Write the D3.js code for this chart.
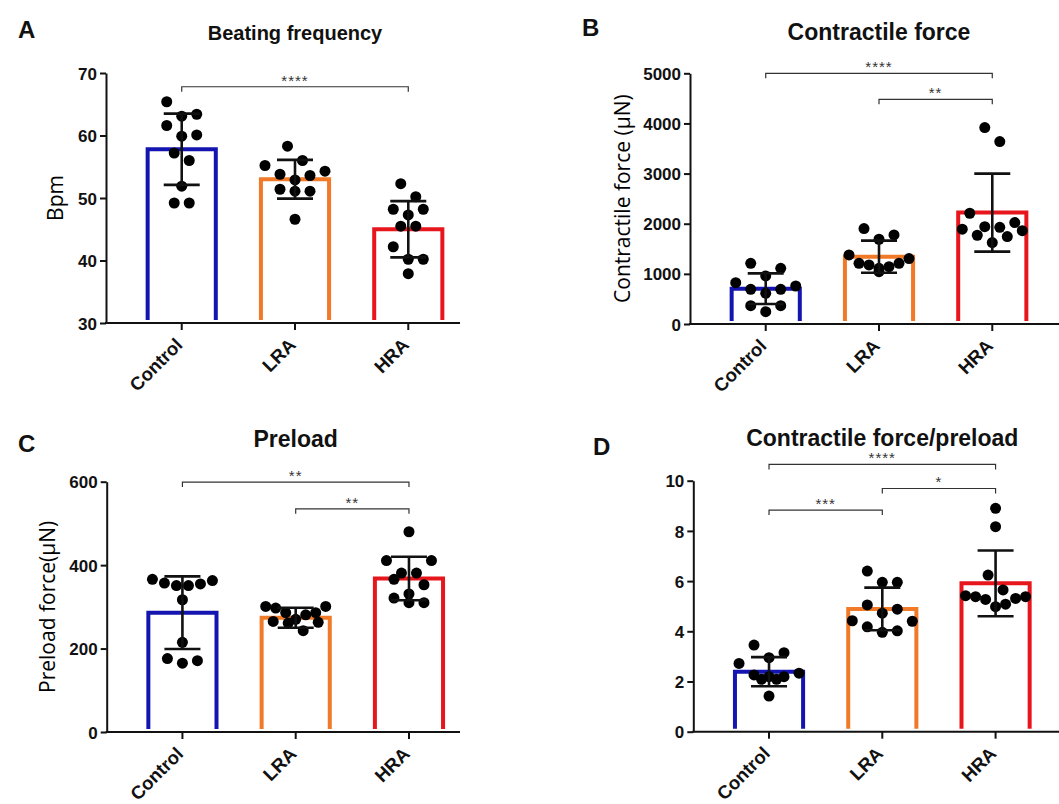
<!DOCTYPE html>
<html>
<head>
<meta charset="utf-8">
<script src="https://cdn.jsdelivr.net/npm/d3@7"></script>
<style>
  body { margin: 0; background: #fff; }
  svg { display: block; }
  .tick text { font-family: "Liberation Sans", Arial, sans-serif; font-weight: bold; fill: #111; }
</style>
</head>
<body>
<div id="chart"></div>
<script>
/* jshint esversion: 6 */

///////////////////////////////////////////////////////////////////////////////
//// Data /////////////////////////////////////////////////////////////////////
///////////////////////////////////////////////////////////////////////////////
const groups = ["Control", "LRA", "HRA"];
const groupColors = ["#1414b0", "#f07a28", "#e6161c"];

// A - beating frequency (Bpm)
const bpmMean = [57.8, 53.0, 45.0];
const bpmSd = [5.7, 3.1, 4.5];
const bpmControl = [65.4, 63.4, 63.1, 61.6, 60.1, 59.9, 57.2, 56.0, 51.9, 49.2, 49.2];
const bpmLRA = [58.3, 56.0, 55.2, 54.3, 53.8, 53.6, 52.9, 51.4, 51.1, 51.1, 46.6];
const bpmHRA = [52.3, 50.2, 48.2, 48.2, 47.3, 45.5, 45.5, 42.2, 40.2, 40.2, 37.9];
const bpmTicks = [30, 40, 50, 60, 70];
const bpmSig = [{ from: 0, to: 2, at: 67.8, label: "****" }];

// B - contractile force (uN)
const forceMean = [705, 1343, 2222];
const forceSd = [305, 320, 778];
const forceControl = [1211, 1111, 958, 824, 758, 692, 692, 612, 366, 366, 246];
const forceLRA = [1903, 1776, 1690, 1377, 1304, 1211, 1211, 1178, 1144, 1111, 1044];
const forceHRA = [3918, 3639, 2209, 2022, 1942, 1929, 1890, 1862, 1770, 1743, 1623];
const forceTicks = [0, 1000, 2000, 3000, 4000, 5000];
const forceSig = [
	{ from: 0, to: 2, at: 5000, label: "****" },
	{ from: 1, to: 2, at: 4480, label: "**" }
];

// C - preload (uN)
const preloadMean = [286, 274, 368];
const preloadSd = [87, 24, 52];
const preloadControl = [366, 363, 357, 355, 351, 351, 317, 215, 176, 171, 165];
const preloadLRA = [301, 301, 297, 286, 286, 281, 270, 265, 263, 261, 243];
const preloadHRA = [480, 411, 411, 381, 381, 366, 353, 331, 321, 310, 310];
const preloadTicks = [0, 200, 400, 600];
const preloadSig = [
	{ from: 0, to: 2, at: 599, label: "**" },
	{ from: 1, to: 2, at: 535, label: "**" }
];

// D - contractile force / preload
const ratioMean = [2.39, 4.89, 5.91];
const ratioSd = [0.58, 0.85, 1.31];
const ratioControl = [3.45, 3.15, 2.95, 2.72, 2.33, 2.26, 2.19, 2.19, 2.09, 2.09, 1.42];
const ratioLRA = [6.40, 5.95, 5.95, 5.05, 4.88, 4.72, 4.42, 4.40, 4.18, 4.02, 3.96];
const ratioHRA = [8.90, 8.17, 6.24, 5.65, 5.42, 5.38, 5.38, 5.31, 5.27, 5.08, 4.98];
const ratioTicks = [0, 2, 4, 6, 8, 10];
const ratioSig = [
	{ from: 0, to: 2, at: 10.65, label: "****" },
	{ from: 1, to: 2, at: 9.69, label: "*" },
	{ from: 0, to: 1, at: 8.83, label: "***" }
];

///////////////////////////////////////////////////////////////////////////////
//// Layout ///////////////////////////////////////////////////////////////////
///////////////////////////////////////////////////////////////////////////////
const width = 1059,
			height = 804;

const plotWidth = 378,
			dotRadius = 5.5;

const panels = [
	{ letter: "A", title: "Beating frequency", titleSize: 20, yLabel: "Bpm",
		mean: bpmMean, sd: bpmSd, points: [bpmControl, bpmLRA, bpmHRA],
		ticks: bpmTicks, sig: bpmSig,
		x0: 106, top: 73, bottom: 323, right: 460, labelX: 63, letterPos: [18, 38], titleY: 40 },
	{ letter: "B", title: "Contractile force", titleSize: 23, yLabel: "Contractile force (\u03bcN)",
		mean: forceMean, sd: forceSd, points: [forceControl, forceLRA, forceHRA],
		ticks: forceTicks, sig: forceSig,
		x0: 690, top: 73.3, bottom: 324, right: 1059, labelX: 630, letterPos: [582, 36], titleY: 40 },
	{ letter: "C", title: "Preload", titleSize: 23, yLabel: "Preload force(\u03bcN)",
		mean: preloadMean, sd: preloadSd, points: [preloadControl, preloadLRA, preloadHRA],
		ticks: preloadTicks, sig: preloadSig,
		x0: 106.7, top: 481.7, bottom: 732, right: 460, labelX: 55, letterPos: [18, 452], titleY: 447 },
	{ letter: "D", title: "Contractile force/preload", titleSize: 23, yLabel: "",
		mean: ratioMean, sd: ratioSd, points: [ratioControl, ratioLRA, ratioHRA],
		ticks: ratioTicks, sig: ratioSig,
		x0: 693.3, top: 480.7, bottom: 731.7, right: 1059, labelX: 0, letterPos: [593, 455], titleY: 446 }
];

const svg = d3.select("#chart")
	.append("svg")
		.attr("width", width)
		.attr("height", height);

panels.forEach(drawPanel);

///////////////////////////////////////////////////////////////////////////////
//// Draw one panel ///////////////////////////////////////////////////////////
///////////////////////////////////////////////////////////////////////////////
function drawPanel(p) {
	const g = svg.append("g");

	const x = d3.scaleBand()
			.domain(groups)
			.range([p.x0, p.x0 + plotWidth])
			.paddingInner(0.363)
			.paddingOuter(0.35);

	const y = d3.scaleLinear()
			.domain(d3.extent(p.ticks))
			.range([p.bottom, p.top]);

	const cx = d => x(d) + x.bandwidth() / 2;

	// Panel letter and title
	g.append("text")
			.attr("x", p.letterPos[0])
			.attr("y", p.letterPos[1])
			.attr("font-family", "Liberation Sans, Arial, sans-serif")
			.attr("font-weight", "bold")
			.attr("font-size", 24)
			.attr("fill", "#111")
			.text(p.letter);

	g.append("text")
			.attr("x", p.x0 + plotWidth / 2)
			.attr("y", p.titleY)
			.attr("text-anchor", "middle")
			.attr("font-family", "Liberation Sans, Arial, sans-serif")
			.attr("font-weight", "bold")
			.attr("font-size", p.titleSize)
			.attr("fill", "#111")
			.text(p.title);

	// Bars (open at the bottom, just above the axis)
	g.append("g")
		.selectAll("path")
		.data(groups)
		.enter()
		.append("path")
			.attr("fill", "none")
			.attr("stroke", (d, i) => groupColors[i])
			.attr("stroke-width", 4)
			.attr("d", (d, i) => {
				const x1 = x(d) + 2, x2 = x(d) + x.bandwidth() - 2, yb = y.range()[0] - 3;
				return `M${x1},${yb}V${y(p.mean[i])}H${x2}V${yb}`;
			});

	// Scatter points laid out in rows
	groups.forEach((grp, i) => {
		g.append("g")
			.selectAll("circle")
			.data(swarm(p.points[i], y))
			.enter()
			.append("circle")
				.attr("cx", d => cx(grp) + d.dx)
				.attr("cy", d => y(d.v))
				.attr("r", dotRadius)
				.attr("fill", "#000");
	});

	// Error bars (mean +/- SD)
	const err = g.append("g")
			.attr("stroke", "#111")
			.attr("stroke-width", 2.6);
	groups.forEach((grp, i) => {
		const lo = y(p.mean[i] - p.sd[i]), hi = y(p.mean[i] + p.sd[i]);
		err.append("line")
				.attr("x1", cx(grp)).attr("x2", cx(grp))
				.attr("y1", lo).attr("y2", hi);
		[lo, hi].forEach(v => {
			err.append("line")
					.attr("x1", cx(grp) - 18).attr("x2", cx(grp) + 18)
					.attr("y1", v).attr("y2", v);
		});
	});

	// Y axis
	const yAxis = g.append("g")
			.attr("transform", `translate(${p.x0},0)`)
			.call(d3.axisLeft(y)
				.tickValues(p.ticks)
				.tickFormat(d3.format("d"))
				.tickSize(6)
				.tickPadding(3)
				.tickSizeOuter(0));
	yAxis.select(".domain").attr("stroke", "#111").attr("stroke-width", 2);
	yAxis.selectAll(".tick line").attr("stroke", "#111").attr("stroke-width", 2);
	yAxis.selectAll(".tick text").attr("font-size", 17).attr("dy", "0.36em");

	// X axis
	const xAxis = g.append("g")
			.attr("transform", `translate(0,${p.bottom})`)
			.call(d3.axisBottom(x).tickSize(7).tickSizeOuter(0));
	xAxis.select(".domain").remove();
	xAxis.selectAll(".tick line").attr("stroke", "#111").attr("stroke-width", 2);
	xAxis.selectAll(".tick text")
			.attr("font-size", 18.5)
			.attr("text-anchor", "end")
			.attr("transform", "translate(2,23) rotate(-45)")
			.attr("x", 0)
			.attr("y", 0)
			.attr("dy", 0);
	g.append("line")
			.attr("x1", p.x0 - 1)
			.attr("x2", p.right)
			.attr("y1", p.bottom)
			.attr("y2", p.bottom)
			.attr("stroke", "#111")
			.attr("stroke-width", 2);

	// Y axis label
	if (p.yLabel) {
		g.append("text")
				.attr("transform", `translate(${p.labelX},${(p.top + p.bottom) / 2}) rotate(-90)`)
				.attr("text-anchor", "middle")
				.attr("font-family", "Open Sans, sans-serif")
				.attr("font-size", 21)
				.attr("fill", "#000")
				.text(p.yLabel);
	}

	// Significance brackets
	const sig = g.append("g");
	p.sig.forEach(s => {
		const xa = cx(groups[s.from]), xb = cx(groups[s.to]), yy = y(s.at);
		sig.append("path")
				.attr("fill", "none")
				.attr("stroke", "#333")
				.attr("stroke-width", 1.2)
				.attr("d", `M${xa},${yy + 5}V${yy}H${xb}V${yy + 5}`);
		sig.append("text")
				.attr("x", (xa + xb) / 2)
				.attr("y", yy - 1)
				.attr("text-anchor", "middle")
				.attr("font-family", "Liberation Sans, Arial, sans-serif")
				.attr("font-size", 15)
				.attr("letter-spacing", 1)
				.attr("fill", "#333")
				.text(s.label);
	});
}

///////////////////////////////////////////////////////////////////////////////
//// Helper Functions /////////////////////////////////////////////////////////
///////////////////////////////////////////////////////////////////////////////

// Row layout of a scatter dot plot: points whose pixel y lies close to the
// first point of a row share that row; in a row the highest values take the
// outer slots, alternating left and right, working inwards
function swarm(values, y) {
	const rowGap = 15,
				maxHalfWidth = 30;
	const pts = values.map(v => ({ v: v, py: y(v) }))
		.sort((a, b) => a.py - b.py);

	const rows = [];
	let row = null;
	pts.forEach(pt => {
		if (!row || pt.py - row[0].py >= rowGap) {
			row = [];
			rows.push(row);
		}
		row.push(pt);
	});

	rows.forEach(r => {
		const k = r.length,
					s = k > 1 ? Math.min(15, 2 * maxHalfWidth / (k - 1)) : 0;
		const slots = d3.range(k).map(i => (i - (k - 1) / 2) * s);
		let lo = 0, hi = k - 1;
		r.forEach((pt, j) => {
			pt.dx = j % 2 === 0 ? slots[lo++] : slots[hi--];
		});
	});
	return pts;
}
</script>
</body>
</html>
